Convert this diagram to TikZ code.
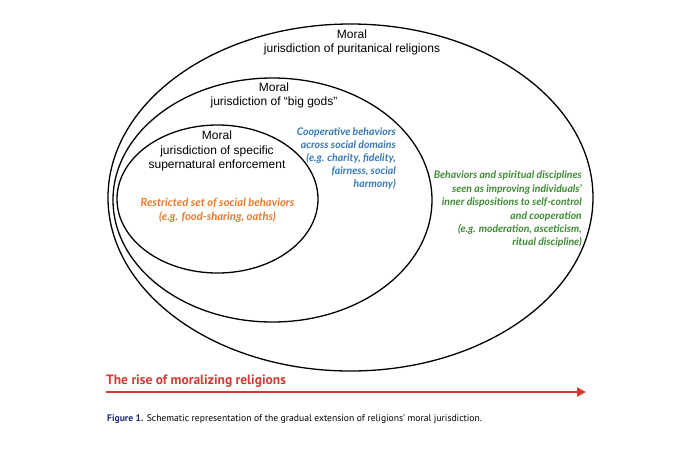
\documentclass[tikz,border=0pt]{standalone}
\usepackage{fontspec}
\setmainfont{Liberation Sans}
\newfontfamily\colfont{Lato}
\newfontfamily\capfont{PT Sans}
\usetikzlibrary{arrows.meta}
\definecolor{orangetxt}{HTML}{E8782A}
\definecolor{bluetxt}{HTML}{3478B8}
\definecolor{greentxt}{HTML}{3C8A32}
\definecolor{redarrow}{HTML}{D23A32}
\definecolor{navycap}{HTML}{23307A}
\tikzset{
  ring/.style={draw=black, line width=1.3pt},
  blacklabel/.style={align=center, font=\fontsize{12}{14.2}\selectfont, inner sep=0pt},
  colorlabel/.style={font=\colfont\bfseries\itshape\fontsize{10.5}{13}\selectfont, inner sep=0pt},
}
\begin{document}
\begin{tikzpicture}[x=1pt, y=-1pt]
\useasboundingbox (0,0) rectangle (680,448);
% ellipses
\draw[ring] (350.5,197.5) ellipse [x radius=242.5, y radius=173.5];
\draw[ring] (272.5,200) ellipse [x radius=159.5, y radius=122];
\draw[ring] (217.5,199) ellipse [x radius=100.5, y radius=74];
% black labels
\node[blacklabel] (puritan) at (352,42) {Moral\\jurisdiction of puritanical religions};
\node[blacklabel] (biggods) at (274,95.5) {Moral\\jurisdiction of “big gods”};
\node[blacklabel] (specific) at (217,151) {Moral\\jurisdiction of specific\\supernatural enforcement};
% coloured labels
\node[colorlabel, text=orangetxt, align=center, font=\colfont\bfseries\itshape\fontsize{11.2}{14}\selectfont] (restricted) at (217.5,210)
  {Restricted set of social behaviors\\(e.g. food-sharing, oaths)};
\node[colorlabel, text=bluetxt, align=right, anchor=east] (coop) at (396,158.5)
  {Cooperative behaviors\\across social domains\\(e.g. charity, fidelity,\\fairness, social\\harmony)};
\node[colorlabel, text=greentxt, align=right, anchor=east, font=\colfont\bfseries\itshape\fontsize{10.4}{13.4}\selectfont] (spirit) at (582,209.5)
  {Behaviors and spiritual disciplines\\seen as improving individuals’\\inner dispositions to self-control\\and cooperation\\(e.g. moderation, asceticism,\\ritual discipline)};
% arrow
\node[anchor=west, inner sep=0pt, text=redarrow, font=\capfont\bfseries\fontsize{13.5}{16}\selectfont] (rise) at (106,381) {The rise of moralizing religions};
\coordinate (arrstart) at (106,392);
\coordinate (arrend) at (586,392);
\draw[redarrow, line width=2.4pt, -{Triangle[length=9pt, width=9pt]}] (arrstart) -- (arrend);
% caption
\node[anchor=west, inner sep=0pt, font=\capfont\fontsize{9.6}{11}\selectfont] (caption) at (107,419)
  {{\bfseries\color{navycap}Figure 1.} Schematic representation of the gradual extension of religions’ moral jurisdiction.};
\end{tikzpicture}
\end{document}
